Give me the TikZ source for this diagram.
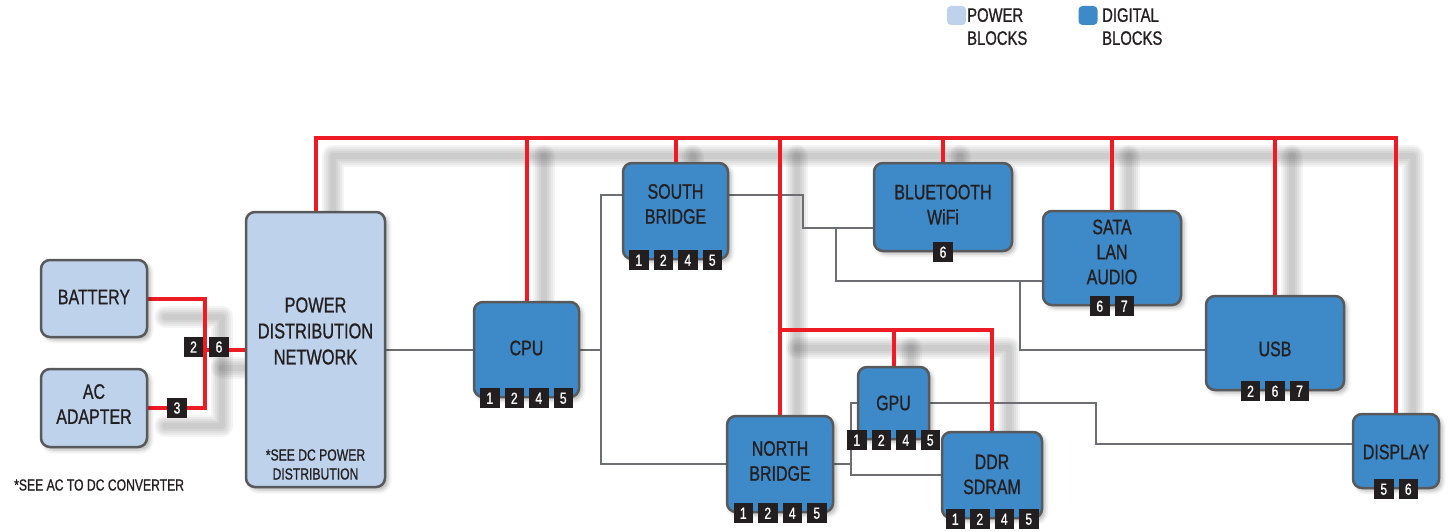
\documentclass[tikz,border=0pt]{standalone}
\usepackage{fontspec}
\setmainfont{Liberation Sans}[FakeStretch=0.76, FakeBold=0.9]
\usepackage{tikz}
\usetikzlibrary{positioning, calc, shadows.blur}
\definecolor{powerblue}{HTML}{BED3EB}
\definecolor{digiblue}{HTML}{3E8AC8}
\definecolor{railred}{HTML}{ED1C24}
\definecolor{wiregray}{HTML}{6D6E71}
\definecolor{edgegray}{HTML}{58595B}
\definecolor{inkblack}{HTML}{231F20}
\pgfdeclarelayer{bg}
\pgfsetlayers{bg,main}

\tikzset{
  block/.style={draw=edgegray, line width=2.5pt, rounded corners=9pt, inner sep=0pt,
    blur shadow={shadow xshift=3pt, shadow yshift=-3pt, shadow blur radius=4pt, shadow opacity=30}},
  power/.style={block, fill=powerblue},
  digital/.style={block, fill=digiblue},
  boxsize/.style 2 args={minimum width=#1, minimum height=#2},
  lbl/.style={text=inkblack, align=center, inner sep=0pt, font=\fontsize{21}{25}\selectfont},
  note/.style={text=inkblack, align=center, inner sep=0pt, font=\fontsize{16}{19}\selectfont},
  keytext/.style={text=inkblack, align=left, inner sep=0pt, anchor=north west, font=\fontsize{19.5}{23}\selectfont},
  keybox/.style={rounded corners=4pt, minimum size=19pt, inner sep=0pt},
  badge/.style={fill=inkblack, text=white, minimum width=19.5pt, minimum height=20pt, inner sep=0pt,
    font=\fontsize{16}{16}\selectfont},
  rail/.style={draw=railred, line width=4pt},
  wire/.style={draw=wiregray, line width=2pt}
}

% row of numbered tags centred on the bottom edge of a block
\newcommand{\badgerow}[3]{%
  \foreach \n [count=\i] in {#3}
    \node[badge] (#1-b\n) at ([xshift={(\i-(#2+1)/2)*24.5pt}]#1.south) {\n};}

% supply rails, drawn twice: once as shadow, once in red
\newcommand{\railpaths}{%
  \draw (battery.east) -| (jrail) |- (acad.east);
  \draw (jrail |- pdn.west) -- (pdn.west);
  \draw (pdn.north) -- (pdn.north |- bus) -- (display.north |- bus) -- (display.north);
  \foreach \blk in {cpu, sb, bt, sata, usb, nb}
    \draw (\blk.north |- bus) -- (\blk.north);
  \draw (nb.north |- branch) -- (ddr.north |- branch) -- (ddr.north);
  \draw (gpu.north |- branch) -- (gpu.north);}

\begin{document}
\begin{tikzpicture}[x=1pt, y=-1pt]
  \useasboundingbox (0,0) rectangle (1448,532);

  % legend
  \node[keybox, fill=powerblue] (keypower) at (956.5,15.5) {};
  \node[keytext] (keypowertext) at (967,8) {POWER\\BLOCKS};
  \node[keybox, fill=digiblue] (keydigital) at (1088,15.5) {};
  \node[keytext] (keydigitaltext) at (1102,8) {DIGITAL\\BLOCKS};

  % power blocks
  \node[power, boxsize={106pt}{77pt}] (battery) at (94,298.5) {};
  \node[lbl] (batterytext) at (94,297) {BATTERY};
  \node[power, boxsize={106pt}{78pt}] (acad) at (94,408) {};
  \node[lbl] (acadtext) at (94,404) {AC\\ADAPTER};
  \node[power, boxsize={139pt}{275pt}] (pdn) at (315.5,349.5) {};
  \node[lbl, font=\fontsize{21.5}{26}\selectfont] (pdntext) at (315.5,331) {POWER\\DISTRIBUTION\\NETWORK};
  \node[note] (pdnnote) at (315.5,464.5) {*SEE DC POWER\\DISTRIBUTION};
  \node[note, anchor=west] (acnote) at (14,485) {*SEE AC TO DC CONVERTER};

  % digital blocks
  \node[digital, boxsize={105pt}{95pt}] (cpu) at (526.5,349.5) {};
  \node[lbl] (cputext) at (526.5,348) {CPU};
  \node[digital, boxsize={105pt}{96pt}] (sb) at (675.5,211) {};
  \node[lbl] (sbtext) at (675.5,204) {SOUTH\\BRIDGE};
  \node[digital, boxsize={138pt}{88pt}] (bt) at (943,207) {};
  \node[lbl] (bttext) at (943,204.5) {BLUETOOTH\\WiFi};
  \node[digital, boxsize={138pt}{94pt}] (sata) at (1112,258) {};
  \node[lbl] (satatext) at (1112,252) {SATA\\LAN\\AUDIO};
  \node[digital, boxsize={138pt}{94pt}] (usb) at (1275,343) {};
  \node[lbl] (usbtext) at (1275,349) {USB};
  \node[digital, boxsize={86pt}{74pt}] (display) at (1396,451) {};
  \node[lbl] (displaytext) at (1396,452) {DISPLAY};
  \node[digital, boxsize={71pt}{72pt}] (gpu) at (893.5,403) {};
  \node[lbl] (gputext) at (893.5,403) {GPU};
  \node[digital, boxsize={106pt}{96pt}] (nb) at (780,464) {};
  \node[lbl] (nbtext) at (780,461) {NORTH\\BRIDGE};
  \node[digital, boxsize={100pt}{86pt}] (ddr) at (992,475) {};
  \node[lbl] (ddrtext) at (992,474.5) {DDR\\SDRAM};

  % tags
  \badgerow{cpu}{4}{1,2,4,5}
  \badgerow{sb}{4}{1,2,4,5}
  \badgerow{bt}{1}{6}
  \badgerow{sata}{2}{6,7}
  \badgerow{usb}{3}{2,6,7}
  \badgerow{display}{2}{5,6}
  \badgerow{gpu}{4}{1,2,4,5}
  \badgerow{nb}{4}{1,2,4,5}
  \badgerow{ddr}{4}{1,2,4,5}
  \node[badge] (pdn-b2) at (193.5,347) {2};
  \node[badge] (pdn-b6) at (219,347) {6};
  \node[badge] (acad-b3) at (177,408) {3};

  % junctions
  \coordinate (bus) at (0,138);
  \coordinate (branch) at (0,330);
  \coordinate (jrail) at (205,349.5);
  \coordinate (jcpu) at (601,349.5);
  \coordinate (jbt) at (803,228);
  \coordinate (jsata) at (836,228);
  \coordinate (jusb) at (1020,281);
  \coordinate (jgpu) at (851,464);
  \coordinate (jdisp) at (1096,444);

  \begin{pgfonlayer}{bg}
    % soft shadow under the rails
    \foreach \w in {22,18,14,10,6}{
      \begin{scope}[transform canvas={xshift=17pt, yshift=-18pt}, black,
          line width=\w pt, draw opacity=0.045, line cap=round, line join=round]
        \railpaths
      \end{scope}
    }
    % signal wires
    \draw[wire] (pdn.east) -- (cpu.west);
    \draw[wire] (cpu.east) -- (jcpu);
    \draw[wire] ([yshift=16pt]sb.west) -| (jcpu) |- (nb.west);
    \draw[wire] ([yshift=16pt]sb.east) -| (jbt) -- ([yshift=-21pt]bt.west);
    \draw[wire] (jsata) |- ([yshift=-23pt]sata.west);
    \draw[wire] (jusb) |- ([yshift=-7pt]usb.west);
    \draw[wire] (nb.east) -- (jgpu);
    \draw[wire] (gpu.west) -| (jgpu) |- (ddr.west);
    \draw[wire] (gpu.east) -| (jdisp) -- ([yshift=7pt]display.west);
    % supply rails
    \begin{scope}[railred, line width=4pt]
      \railpaths
    \end{scope}
  \end{pgfonlayer}
\end{tikzpicture}
\end{document}
